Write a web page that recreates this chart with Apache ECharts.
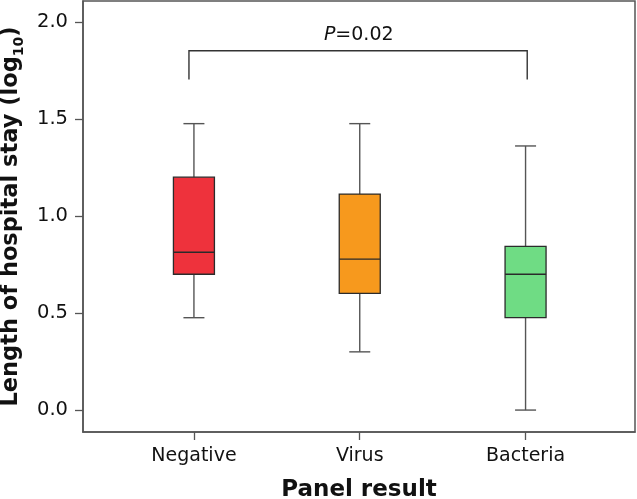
<!DOCTYPE html>
<html>
<head>
<meta charset="utf-8">
<script src="https://cdn.jsdelivr.net/npm/echarts@6/dist/echarts.min.js"></script>
<style>html,body{margin:0;padding:0;background:#fff}#c{width:637px;height:499px}</style>
</head>
<body>
<div id="c"></div>
<script>
// ---- data ----
const categories = ['Negative', 'Virus', 'Bacteria'];
const whiskerMin = [0.476, 0.30, 0.0];
const q1 = [0.70, 0.601, 0.476];
const median = [0.813, 0.778, 0.70];
const q3 = [1.20, 1.113, 0.844];
const whiskerMax = [1.476, 1.476, 1.361];
const boxColors = ['#ee323c', '#f7991d', '#6fdc84'];
const yTicks = [0, 0.5, 1.0, 1.5, 2.0];
const bracketX = [0.97, 3.01];
const bracketY = [1.852, 1.703];
const pLabel = 'P=0.02';

const chart = echarts.init(document.getElementById('c'), null, {renderer: 'canvas'});
const FONT = 'DejaVu Sans';
const boxData = categories.map((c, i) => [i + 1, whiskerMin[i], q1[i], median[i], q3[i], whiskerMax[i]]);

function renderBox(params, api) {
  const x = api.value(0);
  const pMin = api.coord([x, api.value(1)]);
  const pQ1 = api.coord([x, api.value(2)]);
  const pMed = api.coord([x, api.value(3)]);
  const pQ3 = api.coord([x, api.value(4)]);
  const pMax = api.coord([x, api.value(5)]);
  const cx = pMin[0];
  const bw = 41, cw = 21;
  const lineStyle = {stroke: '#555', lineWidth: 1.4};
  return {
    type: 'group',
    children: [
      {type: 'line', shape: {x1: cx, y1: pMin[1], x2: cx, y2: pQ1[1]}, style: lineStyle},
      {type: 'line', shape: {x1: cx, y1: pQ3[1], x2: cx, y2: pMax[1]}, style: lineStyle},
      {type: 'line', shape: {x1: cx - cw / 2, y1: pMin[1], x2: cx + cw / 2, y2: pMin[1]}, style: lineStyle},
      {type: 'line', shape: {x1: cx - cw / 2, y1: pMax[1], x2: cx + cw / 2, y2: pMax[1]}, style: lineStyle},
      {type: 'rect', shape: {x: cx - bw / 2, y: pQ3[1], width: bw, height: pQ1[1] - pQ3[1]},
        style: {fill: boxColors[params.dataIndex], stroke: '#2b2b2b', lineWidth: 1.3}},
      {type: 'line', shape: {x1: cx - bw / 2, y1: pMed[1], x2: cx + bw / 2, y2: pMed[1]},
        style: {stroke: '#2a2a2a', lineWidth: 1.4}}
    ]
  };
}

function renderBracket(params, api) {
  const a = api.coord([bracketX[0], bracketY[1]]);
  const b = api.coord([bracketX[0], bracketY[0]]);
  const c = api.coord([bracketX[1], bracketY[0]]);
  const d = api.coord([bracketX[1], bracketY[1]]);
  const t = api.coord([(1 + categories.length) / 2, 1.93]);
  return {
    type: 'group',
    children: [
      {type: 'polyline', shape: {points: [a, b, c, d]}, style: {stroke: '#333', lineWidth: 1.4, fill: null}},
      {type: 'text', x: t[0] - 1, y: t[1], style: {
        text: '{i|P}' + pLabel.slice(1), align: 'center', verticalAlign: 'middle',
        font: '19px "DejaVu Sans"', fill: '#111',
        rich: {i: {fontStyle: 'italic', fontSize: 19, fontFamily: FONT, fill: '#111'}}
      }}
    ]
  };
}

chart.setOption({
  animation: false,
  backgroundColor: '#fff',
  grid: {left: 83, right: 2, top: 1, bottom: 67, show: true, borderColor: '#555', borderWidth: 1.5,
    containLabel: false, outerBoundsMode: 'none'},
  xAxis: {
    type: 'value', min: 0.331, max: 3.66,
    name: 'Panel result', nameLocation: 'middle', nameGap: 47,
    nameTextStyle: {fontFamily: FONT, fontWeight: 'bold', fontSize: 23, color: '#111'},
    axisLine: {show: true, onZero: false, lineStyle: {color: '#555', width: 1.5}},
    axisTick: {show: true, length: 8, customValues: [1, 2, 3], lineStyle: {color: '#555', width: 1.3}},
    axisLabel: {customValues: [1, 2, 3], margin: 15, fontFamily: FONT, fontSize: 19, color: '#111',
      formatter: v => categories[Math.round(v) - 1] || ''},
    splitLine: {show: false}
  },
  yAxis: {
    type: 'value', min: -0.113, max: 2.108,
    name: '{t|Length of hospital stay (log}{s|10}{t|)}', nameLocation: 'middle', nameGap: 58, nameRotate: 90,
    nameTextStyle: {rich: {
      t: {fontFamily: FONT, fontWeight: 'bold', fontSize: 22.5, color: '#111'},
      s: {fontFamily: FONT, fontWeight: 'bold', fontSize: 14, color: '#111', verticalAlign: 'bottom', padding: [0, 0, -3, 0]}
    }},
    axisLine: {show: true, onZero: false, lineStyle: {color: '#555', width: 1.5}},
    axisTick: {show: true, length: 8, customValues: yTicks, lineStyle: {color: '#555', width: 1.3}},
    axisLabel: {customValues: yTicks, margin: 15, fontFamily: FONT, fontSize: 19.5, color: '#111',
      formatter: v => Number(v).toFixed(1)},
    splitLine: {show: false}
  },
  series: [
    {type: 'custom', renderItem: renderBox, data: boxData, encode: {x: 0, y: [1, 2, 3, 4, 5]}, silent: true},
    {type: 'custom', renderItem: renderBracket, data: [[bracketX[0], bracketY[0]]], silent: true}
  ]
});
</script>
</body>
</html>
